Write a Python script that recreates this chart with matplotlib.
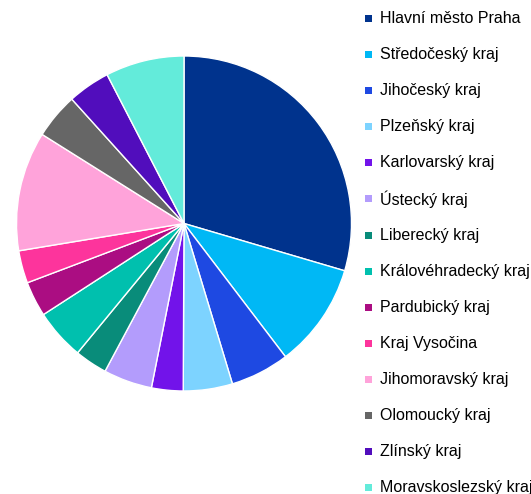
import matplotlib.pyplot as plt
from matplotlib.patches import Rectangle

plt.rcParams['font.family'] = ['Liberation Sans', 'DejaVu Sans']

regions = ["Hlavní město Praha", "Středočeský kraj", "Jihočeský kraj",
           "Plzeňský kraj", "Karlovarský kraj", "Ústecký kraj",
           "Liberecký kraj", "Královéhradecký kraj", "Pardubický kraj",
           "Kraj Vysočina", "Jihomoravský kraj", "Olomoucký kraj",
           "Zlínský kraj", "Moravskoslezský kraj"]
shares = [29.6, 10.1, 5.7, 4.75, 3.05, 4.7, 3.15, 4.9, 3.4, 3.15,
          11.55, 4.4, 4.1, 7.6]
colors = ["#00338D", "#00B8F5", "#1E49E2", "#7DD3FF", "#7213EA", "#B39CFC",
          "#098C7A", "#00C0AE", "#AB0D82", "#FD349C", "#FFA3DA", "#666666",
          "#510DBC", "#63EBDA"]

W, H = 531, 494
fig = plt.figure(figsize=(W / 100, H / 100), dpi=100)

# pie centred around (184, 223) px, radius ~167 px
cx, cy, r = 184, 223.5, 167.5
ax = fig.add_axes([(cx - r) / W, (H - cy - r) / H, 2 * r / W, 2 * r / H])
ax.pie(shares, colors=colors, startangle=90, counterclock=False,
       wedgeprops=dict(edgecolor='white', linewidth=1.0))
ax.set_xlim(-1, 1)
ax.set_ylim(-1, 1)
ax.set_aspect('equal')

# legend column on the right
y0, dy = 18.5, 36.1
for i, (name, c) in enumerate(zip(regions, colors)):
    y = y0 + i * dy
    fig.patches.append(Rectangle(((368.5 - 3.5) / W, 1 - (y + 3.5) / H),
                                 7 / W, 7 / H, transform=fig.transFigure,
                                 facecolor=c, edgecolor='none'))
    fig.text(379.5 / W, 1 - y / H, name, fontsize=11.5, color='black',
             va='center', ha='left')

fig.savefig('out.png', dpi=100)
